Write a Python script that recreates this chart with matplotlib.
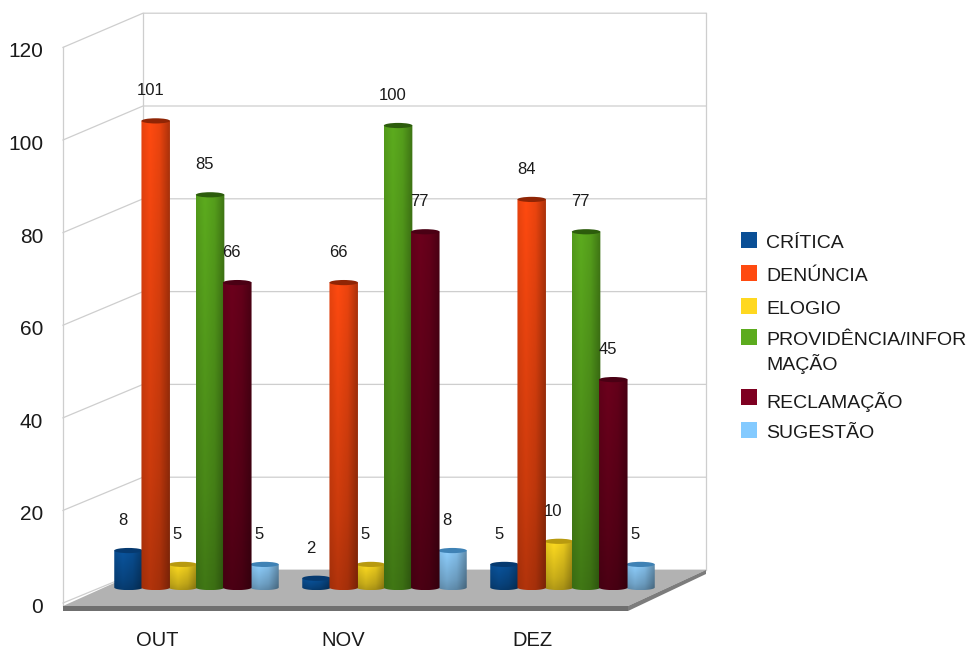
import numpy as np
import matplotlib
matplotlib.use("Agg")
import matplotlib.pyplot as plt
from matplotlib.patches import Ellipse, Polygon, Rectangle
from matplotlib.colors import to_rgb

plt.rcParams['font.family'] = ['Liberation Sans', 'DejaVu Sans']

months = ["OUT", "NOV", "DEZ"]
series = ["CRÍTICA", "DENÚNCIA", "ELOGIO", "PROVIDÊNCIA/INFOR\nMAÇÃO", "RECLAMAÇÃO", "SUGESTÃO"]
critica = [8, 2, 5]
denuncia = [101, 66, 84]
elogio = [5, 5, 10]
providencia = [85, 100, 77]
reclamacao = [66, 77, 45]
sugestao = [5, 8, 5]
y_ticks = [0, 20, 40, 60, 80, 100, 120]

values = [critica, denuncia, elogio, providencia, reclamacao, sugestao]
colors = ["#0a4f96", "#ff4a10", "#ffd820", "#5cab1e", "#7e0021", "#83caff"]
bar_colors = ["#0a559f", "#ff4a10", "#ffdc20", "#5cab1e", "#6c001c", "#8fd0ff"]
cap_colors = ["#063a70", "#8f2505", "#b89a10", "#2c5c0c", "#4a0014", "#3f82b5"]
stack = [1, 3, 1, 2, 4, 1]
legend_y = [241, 274, 307, 338, 398, 431]
month_x = [157, 343, 532]

W, H = 972, 650
GROUP_PX = 188.0
STEP_PX = 27.2
BAR_PX = 28.5
UNIT_PX = 4.62
X0_PX = 196.5
Y0_PX = 587.5
CAP_PX = 2.6

fig = plt.figure(figsize=(W / 100, H / 100), dpi=100, facecolor="white")

# walls, floor and all the fixed text live in a pixel axes
deco = fig.add_axes([0, 0, 1, 1])
deco.set_xlim(0, W)
deco.set_ylim(H, 0)
deco.axis("off")

grid_c = "#cecece"
for v in y_ticks:
    back = 570 - v * 4.64
    front = 603 - v * 4.63
    deco.plot([63, 143, 706], [front, back, back], color=grid_c, lw=0.9, zorder=1)
    deco.text(43, front + 4.5, str(v), ha="right", va="center", fontsize=15, color="#1a1a1a")
deco.plot([63, 63], [47, 606], color=grid_c, lw=0.9, zorder=1)
deco.plot([143, 143], [13, 570], color=grid_c, lw=0.9, zorder=1)
deco.plot([706, 706], [13, 570], color=grid_c, lw=0.9, zorder=1)

deco.add_patch(Polygon([(63, 606), (143, 570), (706, 570), (628, 606)],
                       facecolor="#b2b2b2", edgecolor="none", zorder=2))
deco.add_patch(Polygon([(63, 606), (628, 606), (628, 611), (63, 611)],
                       facecolor="#6f6f6f", edgecolor="none", zorder=2))
deco.add_patch(Polygon([(628, 606), (706, 570), (706, 574), (628, 611)],
                       facecolor="#7c7c7c", edgecolor="none", zorder=2))

for m, mx in zip(months, month_x):
    deco.text(mx, 641, m, ha="center", va="center", fontsize=14.5, color="#1a1a1a")

for name, c, ly in zip(series, colors, legend_y):
    deco.add_patch(Rectangle((741, ly - 9), 16, 16, facecolor=c, edgecolor="none"))
    deco.text(766, ly - 6, name, ha="left", va="top", fontsize=14,
              color="#1a1a1a", linespacing=1.3)

# bars in data units on a transparent axes on top
ax = fig.add_axes([0, 0, 1, 1])
ax.patch.set_alpha(0)
ax.axis("off")
ax.set_xlim(-X0_PX / GROUP_PX, (W - X0_PX) / GROUP_PX)
ax.set_ylim((Y0_PX - H) / UNIT_PX, Y0_PX / UNIT_PX)
ax.set_autoscale_on(False)

w = BAR_PX / GROUP_PX
step = STEP_PX / GROUP_PX
e = CAP_PX / UNIT_PX

# shading across a cylinder, light left of the middle, dark on the right
across = np.interp(np.linspace(0, 1, 30), [0, 0.3, 0.65, 1], [0.9, 1.0, 0.92, 0.68])
group_x = np.arange(len(months))

for i, (vals, c, cap) in enumerate(zip(values, bar_colors, cap_colors)):
    xs = group_x + (i - 2.5) * step
    bars = ax.bar(xs, vals, w, color=c, zorder=stack[i] * 3)
    for bar, x, v in zip(bars, xs, vals):
        z = stack[i] * 3
        down = np.interp(np.linspace(0, 1, 60), [0, 0.25, 1], [0.7, 0.8, 1.0])
        shade = np.outer(down, across)[..., None]
        img = ax.imshow(shade * np.array(to_rgb(c)), origin="lower", aspect="auto",
                        extent=(x - w / 2, x + w / 2, -e, v), zorder=z + 0.1,
                        interpolation="bilinear")
        t = np.linspace(np.pi, 2 * np.pi, 30)
        outline = [(x - w / 2, v), (x + w / 2, v)]
        outline += [(x + w / 2 * np.cos(a), e * np.sin(a)) for a in t[::-1]]
        clip = Polygon(outline, transform=ax.transData)
        img.set_clip_path(clip)
        bar.set_visible(False)
        ax.add_patch(Ellipse((x, v), w, 2 * e, facecolor=cap, edgecolor="none", zorder=z + 0.2))
        ax.annotate(str(v), (x, v), xytext=(-5.5, 30), textcoords="offset pixels",
                    ha="center", va="center", fontsize=12, color="#1a1a1a", zorder=20)

fig.savefig("out.png", dpi=100, facecolor="white")
